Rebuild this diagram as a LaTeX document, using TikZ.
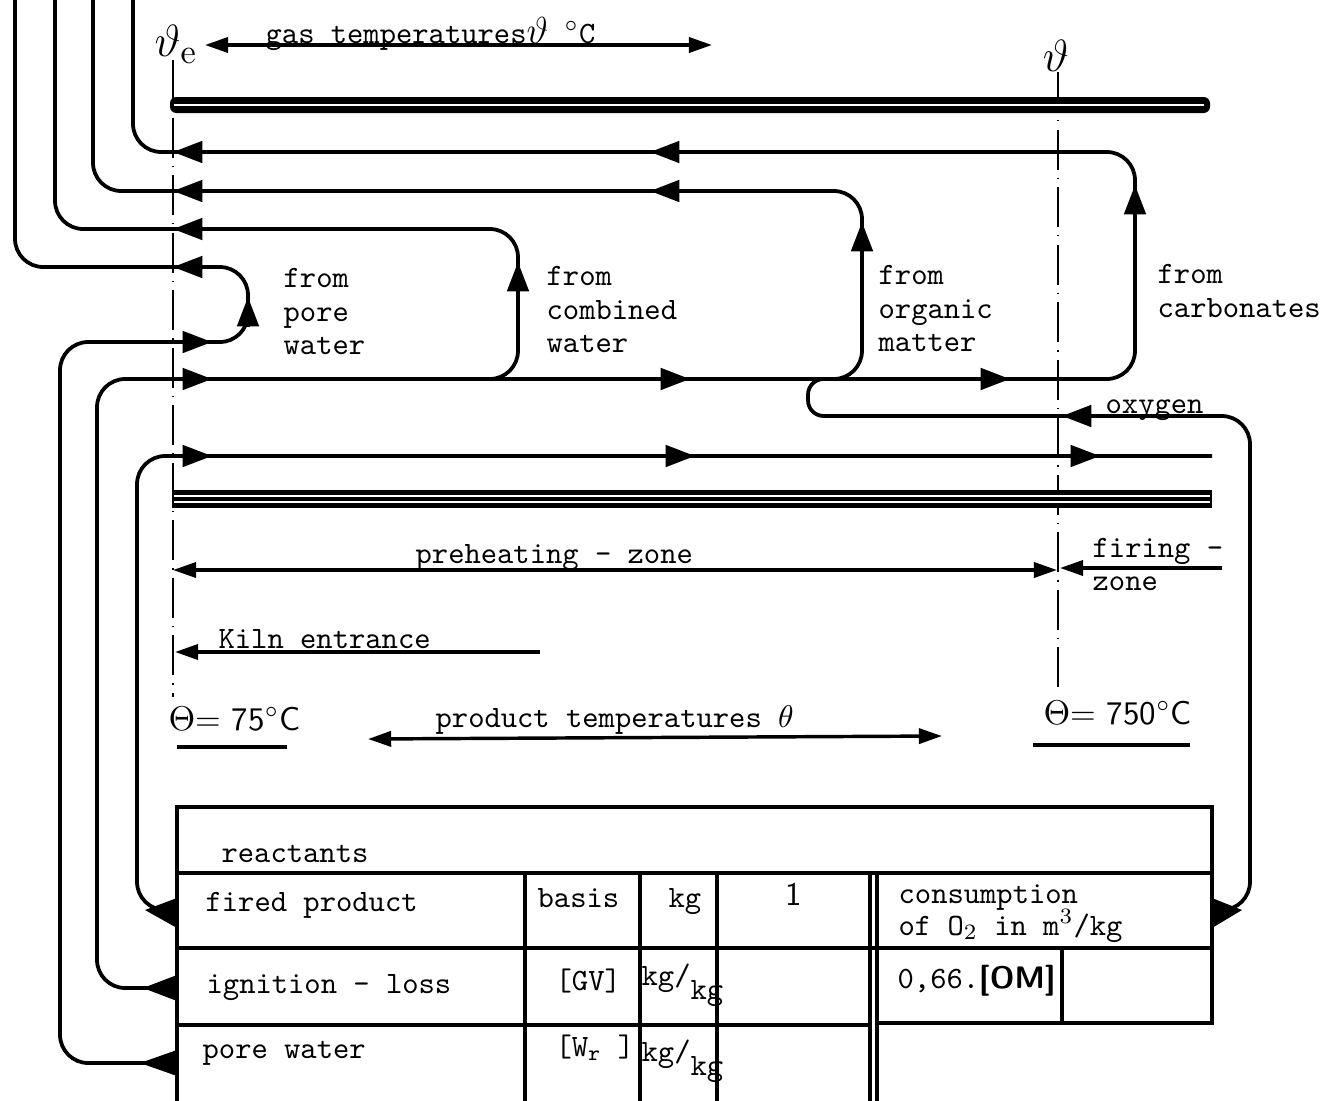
\documentclass[tikz,border=0pt]{standalone}
\usepackage{tikz}
\usetikzlibrary{positioning,arrows.meta,calc}

\tikzset{
  lbl/.style={font=\fontsize{9.9}{10.6}\selectfont\ttfamily, inner sep=0pt, align=left},
  tlbl/.style={font=\fontsize{10.5}{11}\selectfont\sffamily, inner sep=0pt},
  flow/.style={line width=1.2pt, rounded corners=9pt},
  tip/.style={line width=1.2pt, -{Triangle[length=3.3mm,width=2.4mm]}},
  dim/.style={line width=1.1pt, -{Triangle[length=2.6mm,width=1.7mm]}},
  dimboth/.style={line width=1.1pt, {Triangle[length=2.6mm,width=1.7mm]}-{Triangle[length=2.6mm,width=1.7mm]}},
  axis/.style={line width=0.6pt, dash pattern=on 4.5mm off 0.9mm on 0.4pt off 0.9mm},
  grid/.style={line width=1pt}
}
\newcommand{\flowtip}[2]{\draw[tip] (#1) ++(#2) -- (#1);}

\begin{document}
\begin{tikzpicture}[x=0.0112cm, y=-0.0112cm]
    \useasboundingbox (0,0) rectangle (1335,1101);
    \fill[white] (0,0) rectangle (1335,1101);

    % kiln axes
    \draw[axis] (173,60) -- (173,697);
    \draw[axis] (1058,72) -- (1058,692);

    % kiln walls
    \fill[rounded corners=2pt] (170,97) rectangle (1210,113);
    \draw[white, line width=0.4pt] (174,105) -- (1204,105);
    \fill (172,490) rectangle (1212,508);
    \draw[white, line width=0.5pt] (174,496) -- (1210,496) (174,502) -- (1210,502);

    % gas temperatures
    \node[font=\fontsize{15}{16}\selectfont, inner sep=0pt] (thetaE) at (176,44) {$\vartheta_{\mathrm{e}}$};
    \node[font=\fontsize{15}{16}\selectfont, inner sep=0pt] (thetaK) at (1056,56) {$\vartheta$};
    \node[lbl, anchor=base west] (gastemp) at (265,43) {gas temperatures{\fontsize{13}{14}\selectfont$\vartheta$} $^\circ$C};
    \draw[dimboth] (205,45) -- (712,45);

    % ports of the reactants table
    \coordinate (fpOut) at (177,910);
    \coordinate (glOut) at (177,988);
    \coordinate (pwOut) at (177,1063);
    \coordinate (oxIn) at (1212,910);

    % fired product
    \draw[flow] (fpOut) -- (137,910) -- (137,456) -- (1212,456);
    % ignition loss -> carbonates
    \draw[flow] (glOut) -- (97,988) -- (97,379) -- (1135,379) -- (1135,152) -- (133,152) -- (133,0);
    % pore water
    \draw[flow] (pwOut) -- (60,1063) -- (60,342) -- (248,342) -- (248,267) -- (15,267) -- (15,0);
    % combined water
    \draw[flow] (470,379) -- (518,379) -- (518,229) -- (55,229) -- (55,0);
    % organic matter
    \draw[flow] (815,379) -- (862,379) -- (862,191) -- (93,191) -- (93,0);
    % oxygen
    \draw[flow] (oxIn) -- (1250,910) -- (1250,416) [rounded corners=5pt] -- (808,416) -- (808,379) -- (850,379);

    % wedges where the streams leave the table
    \fill (fpOut) ++(0,-12) -- ++(-32,12) -- ++(32,18) -- cycle;
    \fill (glOut) ++(0,-13) -- ++(-34,13) -- ++(34,13) -- cycle;
    \fill (pwOut) ++(0,-13) -- ++(-37,13) -- ++(37,13) -- cycle;
    \fill (oxIn) ++(0,-12) -- ++(30,12) -- ++(-30,18) -- cycle;

    % arrow heads on the streams
    \foreach \p in {{173,152},{650,152},{173,191},{650,191},{173,229},{173,267},{1062,416}}
        \flowtip{\p}{30,0};
    \foreach \p in {{212,342},{212,379},{690,379},{1010,379},{212,456},{695,456},{1100,456}}
        \flowtip{\p}{-30,0};
    \foreach \p in {{248,297},{518,262},{862,222},{1135,185}}
        \flowtip{\p}{0,30};

    % stream labels
    \node[lbl, anchor=north west] (fromPore) at (283,268) {from\\pore\\water};
    \node[lbl, anchor=north west] (fromComb) at (546,266) {from\\combined\\water};
    \node[lbl, anchor=north west] (fromOrg) at (878,265) {from\\organic\\matter};
    \node[lbl, anchor=north west] (fromCarb) at (1157,264) {from\\carbonates};
    \node[lbl, anchor=base west] (oxygen) at (1105,413) {oxygen};

    % zones
    \draw[dimboth] (173,570) -- (1057,570);
    \draw[dim] (1222,568) -- (1060,568);
    \node[lbl, anchor=base west] (preheat) at (415,563) {preheating - zone};
    \node[lbl, anchor=base west] (firing) at (1092,557) {firing -};
    \node[lbl, anchor=base west] (firingZone) at (1092,590) {zone};
    \draw[dim] (540,652) -- (175,652);
    \node[lbl, anchor=base west] (entrance) at (218,648) {Kiln entrance};

    % product temperatures
    \node[tlbl, anchor=base west] (tIn) at (168,730) {$\Theta$= 75$^\circ$C};
    \draw[line width=1pt] (177,747) -- (287,747);
    \node[lbl, anchor=base west] (prodtemp) at (435,727) {product temperatures $\theta$};
    \draw[dimboth] (368,739) -- (942,736);
    \node[tlbl, anchor=base west] (tOut) at (1043,724) {$\Theta$= 750$^\circ$C};
    \draw[line width=1pt] (1033,745) -- (1190,745);

    % reactants table
    \draw[grid] (177,1101) -- (177,807) -- (1212,807) -- (1212,1023) -- (877,1023);
    \draw[grid] (177,873) -- (1212,873);
    \draw[grid] (177,948) -- (1212,948);
    \draw[grid] (177,1025) -- (870,1025);
    \foreach \cx in {525,640,717,870,877}
        \draw[grid] (\cx,873) -- (\cx,1101);
    \draw[grid] (1062,948) -- (1062,1023);

    \node[lbl, anchor=base west] (reactants) at (221,862) {reactants};
    \node[lbl, anchor=base west] (fired) at (205,911) {fired product};
    \node[lbl, anchor=base west] (basis) at (537,907) {basis};
    \node[lbl, anchor=base west] (kgA) at (668,907) {kg};
    \node[tlbl, anchor=base west] (one) at (785,905) {1};
    \node[lbl, anchor=base west] (cons) at (898,903) {consumption};
    \node[lbl, anchor=base west] (consB) at (898,935) {of O$_2$ in m$^3$/kg};
    \node[lbl, anchor=base west] (ignition) at (206,993) {ignition - loss};
    \node[lbl, anchor=base west] (gv) at (555,990) {[GV]};
    \node[lbl, anchor=base west] (kgB) at (641,985) {kg/\raisebox{-1.1ex}{kg}};
    \node[lbl, anchor=base west] (om) at (897,988) {0,66.{\sffamily\bfseries[OM]}};
    \node[lbl, anchor=base west] (pore) at (202,1058) {pore water};
    \node[lbl, anchor=base west] (wr) at (555,1056) {[W$_{\mathtt{r}}$ ]};
    \node[lbl, anchor=base west] (kgC) at (641,1061) {kg/\raisebox{-1.1ex}{kg}};
\end{tikzpicture}
\end{document}
